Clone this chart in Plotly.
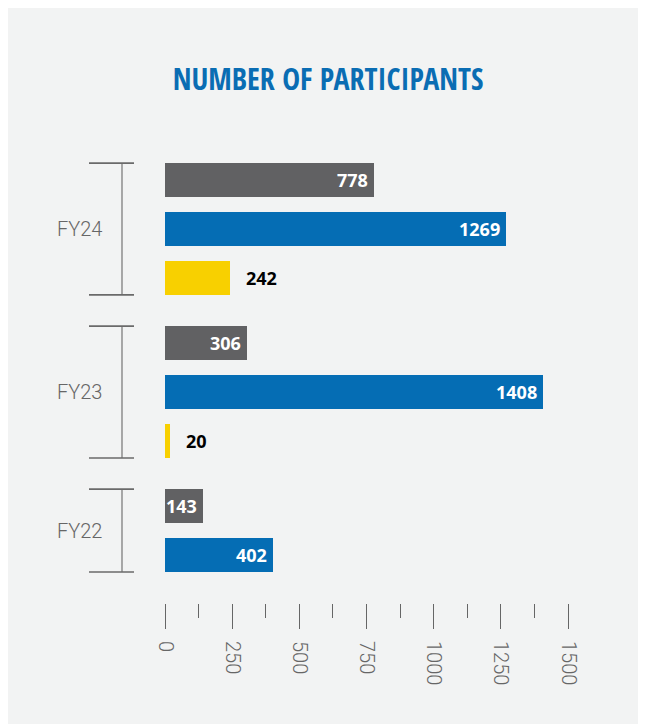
import plotly.graph_objects as go

# ---- data ----
fiscal_years = ["FY24", "FY23", "FY22"]
gray_values = [778, 306, 143]
blue_values = [1269, 1408, 402]
yellow_values = [242, 20, None]
series_names = ["Series 1", "Series 2", "Series 3"]
tick_values = [0, 250, 500, 750, 1000, 1250, 1500]
tick_labels = ["0", "250", "500", "750", "1000", "1250", "1500"]
minor_tick_values = [125, 375, 625, 875, 1125, 1375]
title_text = "NUMBER OF PARTICIPANTS"

# ---- style ----
colors = ["#616163", "#056db4", "#f8d000"]
label_colors = ["white", "white", "black"]
panel_color = "#f2f3f3"
axis_text = "#666666"

OFF = 8  # page body margin
W, H = 646 - OFF, 724 - OFF
ML, MT = 165 - OFF, 150 - OFF
MR = W - (600 - OFF)
MB = H - (603 - OFF)
PW, PH = W - ML - MR, H - MT - MB
x_max = 1500 * PW / 403.0
row_px = 49.0
first_row_px = 180.0 - OFF
y_top = (MT - first_row_px) / row_px
y_bot = (H - MB - first_row_px) / row_px
group_gap = 0.327
bar_w = 0.69

# row positions
all_series = [gray_values, blue_values, yellow_values]
positions = [[None] * len(fiscal_years) for _ in all_series]
group_spans = []
pos = 0.0
for gi, fy in enumerate(fiscal_years):
    start = pos
    for si, vals in enumerate(all_series):
        if vals[gi] is not None:
            positions[si][gi] = pos
            pos += 1
    group_spans.append((start, pos - 1))
    pos += group_gap


def paper_y(p):
    return (y_bot - p) / (y_bot - y_top)


def paper_x_px(px):
    return (px - OFF - ML) / PW


fig = go.Figure()
annotations = []
for si, vals in enumerate(all_series):
    xs = [v for v in vals if v is not None]
    ys = [positions[si][i] for i, v in enumerate(vals) if v is not None]
    fig.add_trace(go.Bar(
        x=xs, y=ys, orientation="h", width=bar_w, name=series_names[si],
        marker=dict(color=colors[si], line=dict(width=0)),
        showlegend=False, hoverinfo="x",
    ))
    for x, y in zip(xs, ys):
        inside = label_colors[si] == "white"
        annotations.append(dict(
            x=x, y=y, xref="x", yref="y", text=f"<b>{x}</b>", showarrow=False,
            xanchor="right" if inside else "left", xshift=-4 if inside else 14,
            font=dict(family="Open Sans", size=18, color=label_colors[si]),
        ))

shapes = []
cap_x0, cap_x1, stem_x = paper_x_px(89), paper_x_px(134), paper_x_px(122)
for gi, (s, e) in enumerate(group_spans):
    y0 = paper_y(s - bar_w / 2)
    y1 = paper_y(e + bar_w / 2)
    shapes.append(dict(type="line", xref="paper", yref="paper", x0=stem_x, x1=stem_x,
                       y0=y0, y1=y1, line=dict(color="#939393", width=1.6)))
    for yy in (y0, y1):
        shapes.append(dict(type="line", xref="paper", yref="paper", x0=cap_x0, x1=cap_x1,
                           y0=yy, y1=yy, line=dict(color="#6a6a6a", width=1.6)))
    annotations.append(dict(
        x=paper_x_px(104), y=paper_y((s + e) / 2), xref="paper", yref="paper",
        text=fiscal_years[gi], showarrow=False, xanchor="right", yanchor="middle",
        font=dict(family="Roboto", size=20, color=axis_text, weight=300),
    ))

fig.update_layout(
    width=W, height=H,
    margin=dict(l=ML, r=MR, t=MT, b=MB, pad=0),
    paper_bgcolor=panel_color, plot_bgcolor="rgba(0,0,0,0)",
    bargap=0,
    title=dict(text=title_text, x=(328 - OFF) / W, xanchor="center",
               y=1 - (79 - OFF) / H, yanchor="middle",
               font=dict(family="Open Sans Condensed, Roboto Condensed", size=30,
                         color="#0a6db3", weight=700)),
    xaxis=dict(range=[0, x_max], showgrid=False, zeroline=False, showline=False,
               tickmode="array", tickvals=tick_values, ticktext=tick_labels,
               ticks="outside", ticklen=25, tickwidth=1.2, tickcolor="#666666",
               tickangle=90, ticklabelstandoff=8,
               tickfont=dict(family="Roboto", size=20, color=axis_text, weight=300),
               minor=dict(tickmode="array", tickvals=minor_tick_values, ticks="outside",
                          ticklen=14, tickwidth=1.2, tickcolor="#666666", showgrid=False),
               fixedrange=True),
    yaxis=dict(range=[y_bot, y_top], showgrid=False, zeroline=False, showline=False,
               showticklabels=False, ticks="", fixedrange=True),
    shapes=shapes,
    annotations=annotations,
)

fig.write_html("out.html")
